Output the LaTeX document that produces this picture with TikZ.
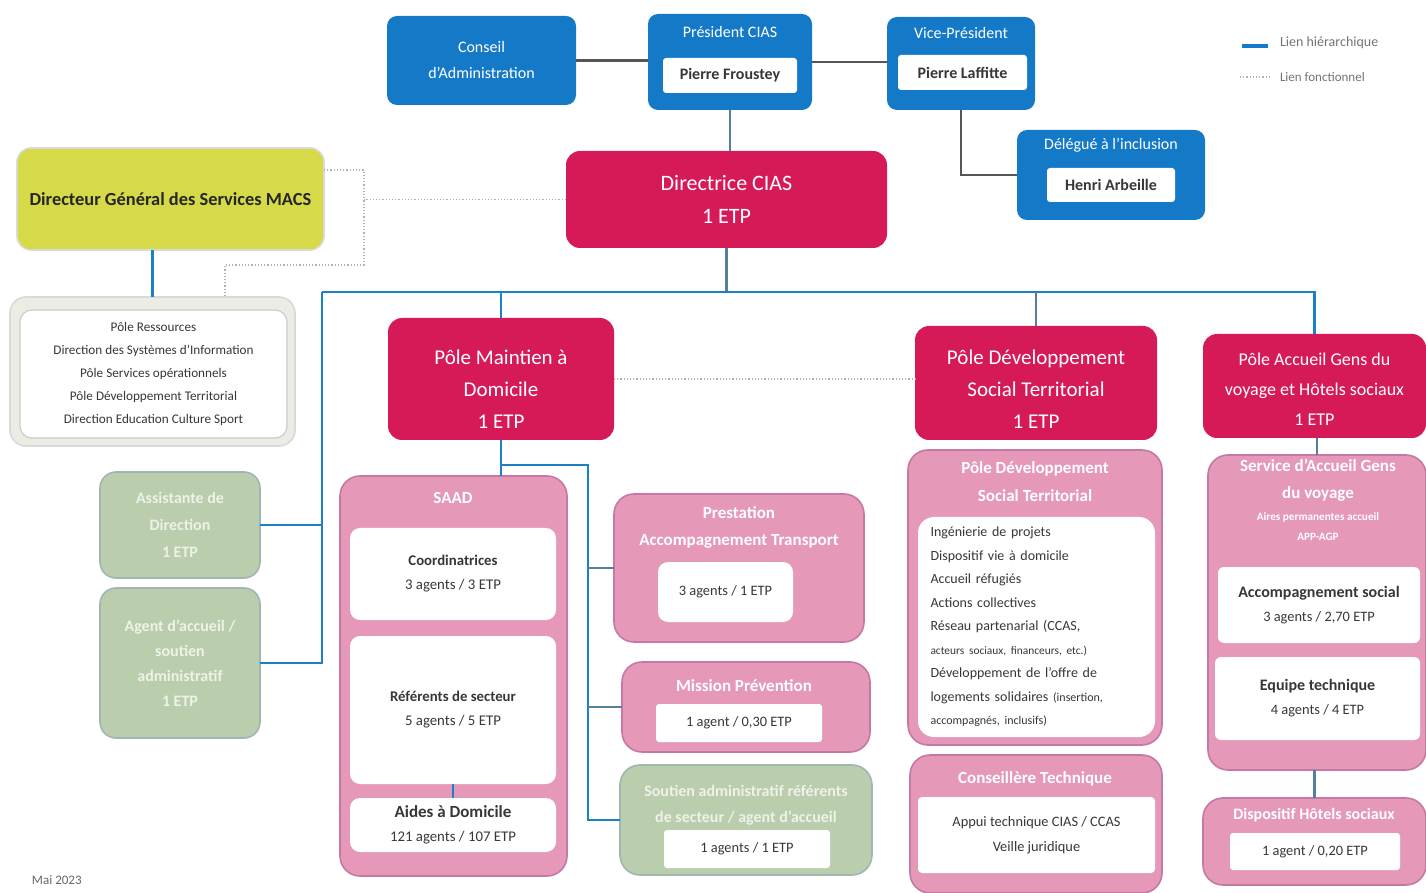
\documentclass[tikz,border=0pt]{standalone}
\usepackage{fontspec}
\setmainfont{Carlito}
\usepackage{tikz}
\definecolor{cblue}{RGB}{20,122,200}
\definecolor{ccrim}{RGB}{214,26,88}
\definecolor{cpink}{RGB}{229,152,184}
\definecolor{cpinkd}{RGB}{196,120,164}
\definecolor{cgreen}{RGB}{186,205,173}
\definecolor{cgreend}{RGB}{160,182,178}
\definecolor{cgreent}{RGB}{238,242,232}
\definecolor{cyellow}{RGB}{214,218,72}
\definecolor{cgreybox}{RGB}{236,236,228}
\definecolor{cline}{RGB}{28,128,196}
\definecolor{cdark}{RGB}{85,85,85}
\definecolor{ctext}{RGB}{55,55,55}
\newcommand{\fsz}[2]{\fontsize{#1}{#2}\selectfont}

\begin{document}
\begin{tikzpicture}[x=0.5pt,y=-0.5pt,
  every node/.style={inner sep=0pt,outer sep=0pt,align=center},
  bluebox/.style={fill=cblue,rounded corners=5pt,text=white},
  namebox/.style={fill=white,rounded corners=1.5pt,text=ctext,font=\fsz{8}{10}\bfseries},
  polebox/.style={fill=ccrim,rounded corners=7pt,text=white},
  subbox/.style={fill=cpink,draw=cpinkd,line width=0.8pt,rounded corners=10pt},
  inbox/.style={fill=white,rounded corners=5pt,text=ctext},
  greenbox/.style={fill=cgreen,draw=cgreend,line width=0.8pt,rounded corners=8pt,text=cgreent},
  subtitle/.style={text=white,font=\fsz{8.5}{14}\bfseries},
  hier/.style={draw=cline,line width=1.1pt},
  softlink/.style={draw=cline!45!gray,line width=1.1pt},
  fonct/.style={draw=black!30,line width=0.6pt,densely dotted},
  toplink/.style={draw=cdark,line width=1.1pt}
]
\useasboundingbox (0,0) rectangle (1426,893);

\node[bluebox,minimum width=94.5pt,minimum height=44.5pt,font=\fsz{8}{13}] (conseil) at (481.5,60.5) {Conseil\\d'Administration};
\node[bluebox,minimum width=82pt,minimum height=48pt] (president) at (730,62) {};
\node[text=white,font=\fsz{8}{10}] (presidentT) at (730,32) {Président CIAS};
\node[namebox,minimum width=67pt,minimum height=17.5pt] (presidentN) at (730,75.5) {Pierre Froustey};
\node[bluebox,minimum width=74pt,minimum height=46.5pt] (vice) at (961,63.5) {};
\node[text=white,font=\fsz{8}{10}] (viceT) at (961,33) {Vice-Président};
\node[namebox,minimum width=64.5pt,minimum height=17.5pt] (viceN) at (962.5,72.5) {Pierre Laffitte};
\node[bluebox,minimum width=94pt,minimum height=45pt] (delegue) at (1111,175) {};
\node[text=white,font=\fsz{8}{10}] (delegueT) at (1111,145) {Délégué à l'inclusion};
\node[namebox,minimum width=64pt,minimum height=17pt] (delegueN) at (1111,185) {Henri Arbeille};

\node[polebox,minimum width=160.5pt,minimum height=48.5pt,font=\fsz{11}{16.5}] (directrice) at (726.5,199.5) {Directrice CIAS\\1 ETP};

\node[fill=cyellow,draw=black!15,line width=0.8pt,rounded corners=7pt,minimum width=153.5pt,minimum height=51pt,text=black!85,font=\fsz{9.2}{10}\bfseries] (dgs) at (170.5,199) {Directeur Général des Services MACS};
\node[fill=cgreybox,draw=black!15,line width=0.8pt,rounded corners=8pt,minimum width=142.5pt,minimum height=74.5pt] (ress) at (152.5,371.5) {};
\node[fill=white,draw=black!20,line width=0.6pt,rounded corners=6pt,minimum width=133.5pt,minimum height=64pt,text=ctext,font=\fsz{6.6}{11.5}] (ressL) at (153.5,374) {Pôle Ressources\\Direction des Systèmes d'Information\\Pôle Services opérationnels\\Pôle Développement Territorial\\Direction Education Culture Sport};

\node[greenbox,minimum width=80pt,minimum height=53pt,font=\fsz{8}{13.5}\bfseries] (assist) at (180,525) {Assistante de\\Direction\\1 ETP};
\node[greenbox,minimum width=80pt,minimum height=75pt,font=\fsz{8}{12.5}\bfseries] (agent) at (180,663) {Agent d'accueil /\\soutien\\administratif\\1 ETP};

\node[polebox,minimum width=113pt,minimum height=61pt] (maintien) at (501,379) {};
\node[text=white,font=\fsz{10.5}{16}] (maintienT) at (501,389) {Pôle Maintien à\\Domicile\\1 ETP};
\node[subbox,minimum width=113.5pt,minimum height=200pt] (saad) at (453.5,676) {};
\node[subtitle] (saadT) at (453,498) {SAAD};
\node[inbox,minimum width=103pt,minimum height=46pt,font=\fsz{7.4}{12}] (coord) at (453,574) {\textbf{Coordinatrices}\\3 agents / 3 ETP};
\node[inbox,minimum width=103pt,minimum height=74pt,font=\fsz{7.4}{12}] (referents) at (453,710) {\textbf{Référents de secteur}\\5 agents / 5 ETP};
\node[inbox,minimum width=103pt,minimum height=27pt,font=\fsz{7.4}{12}] (aides) at (453,825) {{\fsz{8.5}{12}\bfseries Aides à Domicile}\\121 agents / 107 ETP};

\node[subbox,minimum width=125pt,minimum height=74pt] (prest) at (739,568) {};
\node[subtitle,font=\fsz{8.5}{13.5}\bfseries] (prestT) at (739,527) {Prestation\\Accompagnement Transport};
\node[inbox,minimum width=67.5pt,minimum height=30pt,font=\fsz{7.2}{10}] (prestN) at (725.5,592) {3 agents / 1 ETP};
\node[subbox,minimum width=124pt,minimum height=45pt] (mission) at (746,707) {};
\node[subtitle] (missionT) at (744,686) {Mission Prévention};
\node[inbox,rounded corners=1.5pt,minimum width=83pt,minimum height=19pt,font=\fsz{7.2}{10}] (missionN) at (739,723) {1 agent / 0,30 ETP};
\node[subbox,fill=cgreen,draw=cgreend,minimum width=126pt,minimum height=55pt] (soutien) at (746,820) {};
\node[subtitle,text=cgreent,font=\fsz{8}{13}\bfseries] (soutienT) at (746,805) {Soutien administratif référents\\de secteur / agent d'accueil};
\node[inbox,rounded corners=1.5pt,minimum width=83pt,minimum height=19pt,font=\fsz{7.2}{10}] (soutienN) at (747,849) {1 agents / 1 ETP};

\node[polebox,minimum width=121pt,minimum height=57pt] (pdst) at (1036,383) {};
\node[text=white,font=\fsz{10.5}{16}] (pdstP) at (1036,389) {Pôle Développement\\Social Territorial\\1 ETP};
\node[subbox,minimum width=127pt,minimum height=147.5pt] (pdstS) at (1035,597.5) {};
\node[subtitle] (pdstT) at (1035,482) {Pôle Développement\\Social Territorial};
\node[inbox,rounded corners=8pt,minimum width=118.5pt,minimum height=110pt,text width=106pt,align=left,font=\fsz{7}{11.75}] (pdstL) at (1036.5,627) {Ingénierie de projets\\Dispositif vie à domicile\\Accueil réfugiés\\Actions collectives\\Réseau partenarial (CCAS,\\{\fsz{5.7}{11.75}acteurs sociaux, financeurs, etc.)}\\Développement de l'offre de\\logements solidaires {\fsz{6}{11.75}(insertion,}\\{\fsz{6}{11.75}accompagnés, inclusifs)}};
\node[subbox,minimum width=126pt,minimum height=69pt] (conseillere) at (1036,824) {};
\node[subtitle] (conseillereT) at (1035,779) {Conseillère Technique};
\node[inbox,rounded corners=2pt,minimum width=118.5pt,minimum height=38pt,font=\fsz{7.2}{12.5}] (conseillereN) at (1036.5,835) {Appui technique CIAS / CCAS\\Veille juridique};

\node[polebox,minimum width=111.5pt,minimum height=52pt] (accueil) at (1314.5,386) {};
\node[text=white,font=\fsz{9}{15}] (accueilT) at (1314.5,389) {Pôle Accueil Gens du\\voyage et Hôtels sociaux\\1 ETP};
\node[subbox,minimum width=109pt,minimum height=157.5pt] (service) at (1317,612.5) {};
\node[subtitle,font=\fsz{8.5}{13.5}\bfseries] (serviceT) at (1318,480) {Service d'Accueil Gens\\du voyage};
\node[subtitle,font=\fsz{5.6}{10}\bfseries] (serviceS) at (1318,527) {Aires permanentes accueil\\APP-AGP};
\node[inbox,rounded corners=3pt,minimum width=101pt,minimum height=38pt,font=\fsz{7.2}{12}] (accomp) at (1319,605) {{\fsz{8}{12}\bfseries Accompagnement social}\\3 agents / 2,70 ETP};
\node[inbox,rounded corners=3pt,minimum width=102.5pt,minimum height=41.5pt,font=\fsz{7.2}{12}] (equipe) at (1317.5,698.5) {{\fsz{8}{12}\bfseries Equipe technique}\\4 agents / 4 ETP};
\node[subbox,minimum width=111.5pt,minimum height=43.5pt] (hotels) at (1314.5,841.5) {};
\node[subtitle,font=\fsz{8}{10}\bfseries] (hotelsT) at (1314,815) {Dispositif Hôtels sociaux};
\node[inbox,rounded corners=1.5pt,minimum width=85pt,minimum height=18.5pt,font=\fsz{7.2}{10}] (hotelsN) at (1315,851.5) {1 agent / 0,20 ETP};

\draw[toplink] (conseil.east) -- (conseil.east -| president.west);
\draw[toplink] (president.east) -- (president.east -| vice.west);
\draw[toplink] (vice.south) |- (delegue.west);
\draw[softlink] (president.south) -- (president.south |- directrice.north);
\draw[hier] (ress.north |- dgs.south) -- (ress.north);

\coordinate (busL) at (322,292);
\coordinate (mbus) at (588,465);
\draw[softlink] (directrice.south) -- (directrice.south |- busL);
\draw[hier] (busL) -- (accueil.north |- busL) -- (accueil.north);
\draw[hier] (busL) -- (agent.east -| busL) -- (agent.east);
\draw[hier] (assist.east) -- (assist.east -| busL);
\draw[hier] (maintien.north |- busL) -- (maintien.north);
\draw[softlink] (pdst.north |- busL) -- (pdst.north);
\draw[hier] (maintien.south) -- (maintien.south |- saad.north);
\draw[hier] (maintien.south |- mbus) -- (mbus) -- (soutien.west -| mbus) -- (soutien.west);
\draw[softlink] (prest.west -| mbus) -- (prest.west);
\draw[softlink] (mission.west -| mbus) -- (mission.west);
\draw[hier] (referents.south) -- (aides.north);
\draw[softlink] (accueil.south -| service.north) -- (service.north);
\draw[softlink] (service.south -| hotels.north) -- (hotels.north);

\coordinate (fa) at (364,170);
\coordinate (fb) at (364,265);
\coordinate (fc) at (225,265);
\draw[fonct] (dgs.east |- fa) -- (fa) -- (fb) -- (fc) -- (fc |- ress.north);
\draw[fonct] (directrice.west) -- (directrice.west -| fa);
\draw[fonct] (maintien.east) -- (maintien.east -| pdst.west);

\coordinate (lgA) at (1242,46);
\coordinate (lgB) at (1268,46);
\coordinate (lgC) at (1240,77);
\coordinate (lgD) at (1270,77);
\draw[draw=cblue,line width=1.6pt] (lgA) -- (lgB);
\draw[fonct] (lgC) -- (lgD);
\node[anchor=west,text=black!55,font=\fsz{7}{8}] (lgH) at (1280,43) {Lien hiérarchique};
\node[anchor=west,text=black!55,font=\fsz{6.5}{8}] (lgF) at (1280,77) {Lien fonctionnel};
\node[anchor=west,text=black!60,font=\fsz{6.5}{8}] (date) at (32,880) {Mai 2023};
\end{tikzpicture}
\end{document}
